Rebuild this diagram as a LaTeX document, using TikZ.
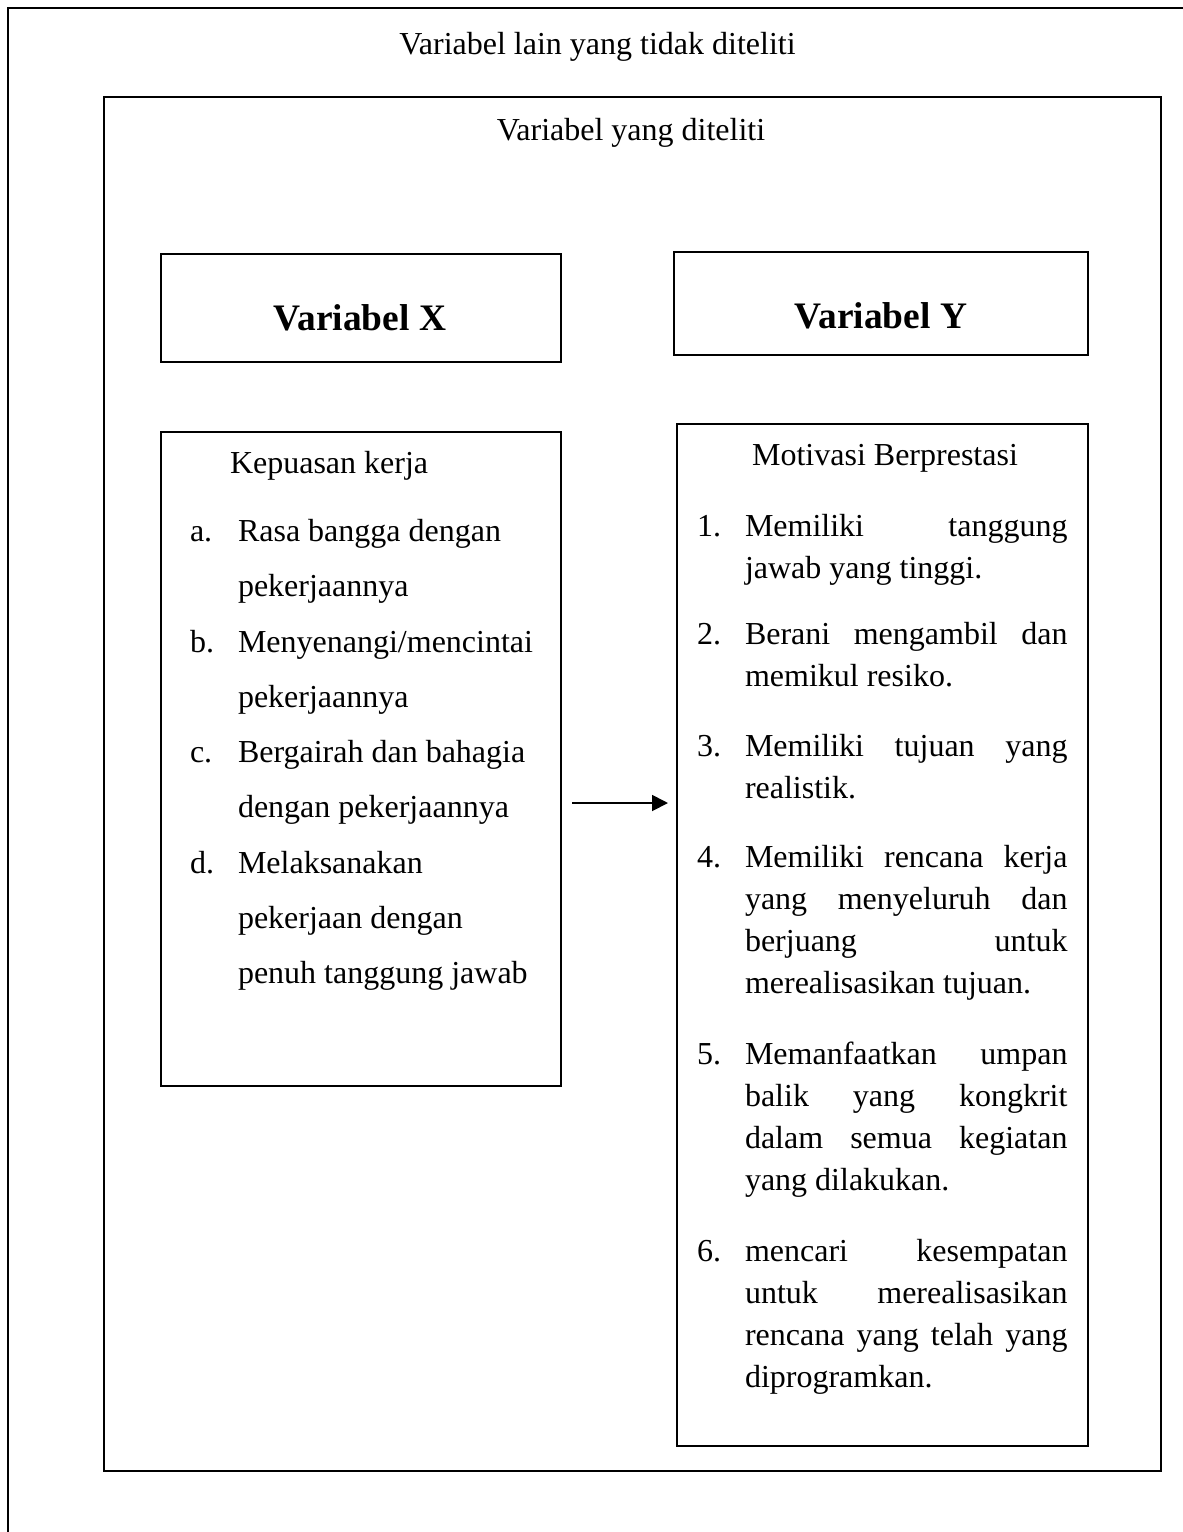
\documentclass[tikz,border=0pt]{standalone}
\usepackage{fontspec}
\setmainfont{Liberation Serif}
\usetikzlibrary{arrows.meta,calc}
\newcommand{\jfill}[1]{\leavevmode\hbox to 161.25pt{#1}}
\begin{document}
\begin{tikzpicture}[x=0.5pt,y=-0.5pt,
  frameline/.style={draw,line width=0.9pt},
  box/.style={draw,line width=0.9pt,rectangle,inner sep=0pt,outer sep=0pt},
  txt/.style={inner sep=0pt,outer sep=0pt,font=\fontsize{16}{20}\selectfont},
  bold/.style={inner sep=0pt,outer sep=0pt,font=\fontsize{18.7}{22}\selectfont\bfseries},
  kitem/.style={txt,text width=160pt,align=flush left,font=\fontsize{16}{27.65}\selectfont},
  mitem/.style={txt,text width=161.25pt,align=flush left,font=\fontsize{16}{21.15}\selectfont},
  arr/.style={line width=0.9pt,-{Triangle[length=8pt,width=8pt]}}]
\useasboundingbox (0,0) rectangle (1183,1532);
% outer (partial) frame
\draw[frameline] (8,1532) -- (8,8) -- (1183,8);
\node[txt,anchor=base] (tout) at (597.5,54) {Variabel lain yang tidak diteliti};
% inner frame
\node[box,minimum width=528.5pt,minimum height=687pt] (inner) at (632.5,784) {};
\node[txt,anchor=base] (tin) at (631,140) {Variabel yang diteliti};
% variable boxes
\node[box,minimum width=200pt,minimum height=54pt] (vx) at (361,308) {};
\node[bold,anchor=base] (vxt) at (360,330) {Variabel X};
\node[box,minimum width=207pt,minimum height=51.5pt] (vy) at (881,303.5) {};
\node[bold,anchor=base] (vyt) at (881,328) {Variabel Y};
% indicator boxes
\node[box,minimum width=200pt,minimum height=327pt] (kep) at (361,759) {};
\node[box,minimum width=205.5pt,minimum height=511pt] (mot) at (882.5,935) {};
% Kepuasan kerja
\node[txt,anchor=base west] (kt) at (230,473) {Kepuasan kerja};
\node[txt,anchor=base west] (la) at (190,541) {a.};
\node[kitem,anchor=base west] (ia) at (238,541) {Rasa bangga dengan\\pekerjaannya};
\node[txt,anchor=base west] (lb) at (190,652) {b.};
\node[kitem,anchor=base west] (ib) at (238,652) {Menyenangi/mencintai\\pekerjaannya};
\node[txt,anchor=base west] (lc) at (190,762) {c.};
\node[kitem,anchor=base west] (ic) at (238,762) {Bergairah dan bahagia\\dengan pekerjaannya};
\node[txt,anchor=base west] (ld) at (190,873) {d.};
\node[kitem,anchor=base west] (id) at (238,873) {Melaksanakan\\pekerjaan dengan\\penuh tanggung jawab};
% Motivasi Berprestasi
\node[txt,anchor=base] (mt) at (885,465) {Motivasi Berprestasi};
\node[txt,anchor=base west] (n1) at (697,536) {1.};
\node[mitem,anchor=base west] (m1) at (745,536) {\jfill{Memiliki\hfill tanggung}\\jawab yang tinggi.};
\node[txt,anchor=base west] (n2) at (697,644) {2.};
\node[mitem,anchor=base west] (m2) at (745,644) {\jfill{Berani\hfill mengambil\hfill dan}\\memikul resiko.};
\node[txt,anchor=base west] (n3) at (697,756) {3.};
\node[mitem,anchor=base west] (m3) at (745,756) {\jfill{Memiliki\hfill tujuan\hfill yang}\\realistik.};
\node[txt,anchor=base west] (n4) at (697,867) {4.};
\node[mitem,anchor=base west] (m4) at (745,867) {\jfill{Memiliki\hfill rencana\hfill kerja}\\\jfill{yang\hfill menyeluruh\hfill dan}\\\jfill{berjuang\hfill untuk}\\merealisasikan tujuan.};
\node[txt,anchor=base west] (n5) at (697,1064) {5.};
\node[mitem,anchor=base west] (m5) at (745,1064) {\jfill{Memanfaatkan\hfill umpan}\\\jfill{balik\hfill yang\hfill kongkrit}\\\jfill{dalam\hfill semua\hfill kegiatan}\\yang dilakukan.};
\node[txt,anchor=base west] (n6) at (697,1261) {6.};
\node[mitem,anchor=base west] (m6) at (745,1261) {\jfill{mencari\hfill kesempatan}\\\jfill{untuk\hfill merealisasikan}\\\jfill{rencana\hfill yang\hfill telah\hfill yang}\\diprogramkan.};
% arrow
\draw[arr] ($(kep.east)+(11,44)$) -- ($(mot.west |- kep.east)+(-9,44)$);
\end{tikzpicture}
\end{document}
